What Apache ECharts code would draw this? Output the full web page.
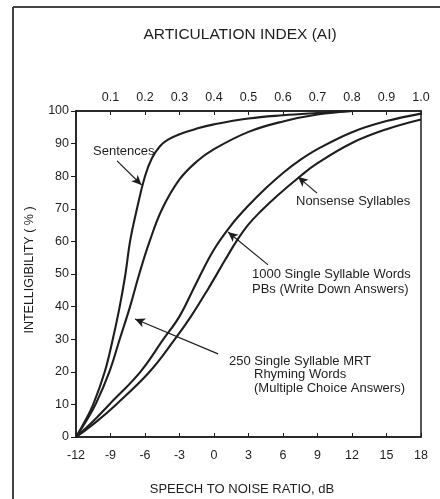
<!DOCTYPE html>
<html>
<head>
<meta charset="utf-8">
<script src="https://cdn.jsdelivr.net/npm/echarts@6/dist/echarts.min.js"></script>
<style>
html,body{margin:0;padding:0;background:#fff;}
#chart{width:440px;height:499px;}
</style>
</head>
<body>
<div id="chart"></div>
<script>
// ---- data (speech-to-noise ratio in dB, intelligibility in %) ----
var snrTicks = [-12, -9, -6, -3, 0, 3, 6, 9, 12, 15, 18];
var aiTicks = [0.1, 0.2, 0.3, 0.4, 0.5, 0.6, 0.7, 0.8, 0.9, 1.0];
var intelTicks = [0, 10, 20, 30, 40, 50, 60, 70, 80, 90, 100];

var sentencesX = [-12, -11.2, -10.5, -9.5, -8.8, -8.2, -7.7, -7.3, -6.7, -6.0, -5.4, -4.7, -4.0, -3.0, -1.5, 0, 3, 6, 9, 12];
var sentencesY = [0, 5, 10, 20, 30, 40, 50, 60, 70, 80, 85.5, 89.2, 91.2, 92.9, 94.6, 95.9, 97.7, 98.7, 99.4, 100];

var mrtX = [-12, -11.1, -10.3, -9.1, -8.2, -7.3, -6.5, -5.6, -4.5, -3.0, -1.5, 0, 3, 6, 9, 12];
var mrtY = [0, 5, 10, 20, 30, 40, 50, 60, 70, 79, 84.5, 88.3, 93.6, 96.8, 98.9, 100];

var pbX = [-12, -10.6, -9.1, -6.4, -4.4, -3, -1.5, 0, 1.5, 3, 4.5, 6, 7.5, 9, 12, 15, 18];
var pbY = [0, 4.5, 10, 20, 30, 37, 47.5, 57.5, 65, 71, 76.3, 81, 85, 88.3, 93.5, 96.9, 99.2];

var nonsenseX = [-12, -10.3, -8.5, -5.6, -3.4, -2, -0.5, 1, 2, 3, 4, 5.5, 7.5, 9, 12, 15, 18];
var nonsenseY = [0, 4.5, 10, 20, 30, 37, 45.5, 54.5, 60.3, 65.2, 69, 74, 80, 84, 90.2, 94.4, 97.4];

// annotation arrows: [fromX, fromY, toX, toY] in data units
var sentencesArrow = [-8.43, 84.7, -6.3, 77.3];
var nonsenseArrow = [8.96, 74.8, 7.3, 79.8];
var pbArrow = [4.7, 52.8, 1.22, 62.9];
var mrtArrow = [0.35, 25.5, -6.87, 36.2];

function zip(xs, ys) { return xs.map(function (x, i) { return [x, ys[i]]; }); }
function arrow(a) {
  return [{ coord: [a[0], a[1]] }, { coord: [a[2], a[3]] }];
}

var ink = '#1e1e1e';
var font = '"Liberation Sans", Arial, sans-serif';

function curve(name, xs, ys, arr) {
  return {
    name: name, type: 'line', data: zip(xs, ys),
    showSymbol: false, smooth: 0.4,
    lineStyle: { color: ink, width: 2.1 },
    silent: true,
    markLine: {
      silent: true, symbol: ['none', 'arrow'], symbolSize: [7, 10],
      label: { show: false },
      lineStyle: { color: ink, width: 1.2, type: 'solid' },
      data: [arrow(arr)],
      animation: false
    }
  };
}

var chart = echarts.init(document.getElementById('chart'), null, { renderer: 'canvas' });
chart.setOption({
  animation: false,
  backgroundColor: '#fff',
  grid: { left: 76, right: 19, top: 111, bottom: 62, show: true, borderColor: ink, borderWidth: 1.5 },
  xAxis: [{
    type: 'value', min: snrTicks[0], max: snrTicks[snrTicks.length - 1], interval: 3,
    position: 'bottom',
    axisLine: { onZero: false, lineStyle: { color: ink, width: 1.5 } },
    axisTick: { inside: true, length: 4, lineStyle: { color: ink } },
    axisLabel: { color: ink, fontSize: 12.5, fontFamily: font, margin: 12 },
    splitLine: { show: false }
  }, {
    type: 'value', min: 0, max: aiTicks[aiTicks.length - 1], interval: 0.1,
    position: 'top',
    axisLine: { onZero: false, lineStyle: { color: ink, width: 1.5 } },
    axisTick: { inside: true, length: 4, lineStyle: { color: ink } },
    axisLabel: {
      color: ink, fontSize: 12.5, fontFamily: font, margin: 7,
      formatter: function (v) { return v < 0.05 ? '' : v.toFixed(1); }
    },
    splitLine: { show: false }
  }],
  yAxis: {
    type: 'value', min: intelTicks[0], max: intelTicks[intelTicks.length - 1], interval: 10,
    position: 'left',
    axisLine: { show: true, onZero: false, lineStyle: { color: ink, width: 1.5 } },
    axisTick: { show: true, inside: false, length: 5, lineStyle: { color: ink } },
    axisLabel: { color: ink, fontSize: 12.5, fontFamily: font, margin: 7 },
    splitLine: { show: false }
  },
  series: [
    curve('Sentences', sentencesX, sentencesY, sentencesArrow),
    curve('250 Single Syllable MRT', mrtX, mrtY, mrtArrow),
    curve('1000 Single Syllable Words', pbX, pbY, pbArrow),
    curve('Nonsense Syllables', nonsenseX, nonsenseY, nonsenseArrow)
  ],
  graphic: [
    { type: 'line', shape: { x1: 13, y1: 7, x2: 13, y2: 499 }, style: { stroke: '#444', lineWidth: 2 } },
    { type: 'line', shape: { x1: 13, y1: 7, x2: 440, y2: 7 }, style: { stroke: '#444', lineWidth: 2 } },
    { type: 'text', x: 240, y: 35, style: { text: 'ARTICULATION INDEX (AI)', font: '15.5px ' + font, fill: ink, align: 'center', verticalAlign: 'middle' } },
    { type: 'text', x: 242, y: 489, style: { text: 'SPEECH TO NOISE RATIO, dB', font: '13px ' + font, fill: ink, align: 'center', verticalAlign: 'middle' } },
    { type: 'text', x: 30, y: 270, rotation: Math.PI / 2, style: { text: 'INTELLIGIBILITY ( % )', font: '12.5px ' + font, fill: ink, align: 'center', verticalAlign: 'middle' } },
    { type: 'text', x: 93, y: 151, style: { text: 'Sentences', font: '13px ' + font, fill: ink, verticalAlign: 'middle' } },
    { type: 'text', x: 296, y: 201, style: { text: 'Nonsense Syllables', font: '13px ' + font, fill: ink, verticalAlign: 'middle' } },
    { type: 'text', x: 252, y: 274, style: { text: '1000 Single Syllable Words', font: '13px ' + font, fill: ink, verticalAlign: 'middle' } },
    { type: 'text', x: 252, y: 289, style: { text: 'PBs (Write Down Answers)', font: '13px ' + font, fill: ink, verticalAlign: 'middle' } },
    { type: 'text', x: 229, y: 361, style: { text: '250 Single Syllable MRT', font: '13px ' + font, fill: ink, verticalAlign: 'middle' } },
    { type: 'text', x: 254, y: 374.5, style: { text: 'Rhyming Words', font: '13px ' + font, fill: ink, verticalAlign: 'middle' } },
    { type: 'text', x: 254, y: 388, style: { text: '(Multiple Choice Answers)', font: '13px ' + font, fill: ink, verticalAlign: 'middle' } }
  ]
});
</script>
</body>
</html>
